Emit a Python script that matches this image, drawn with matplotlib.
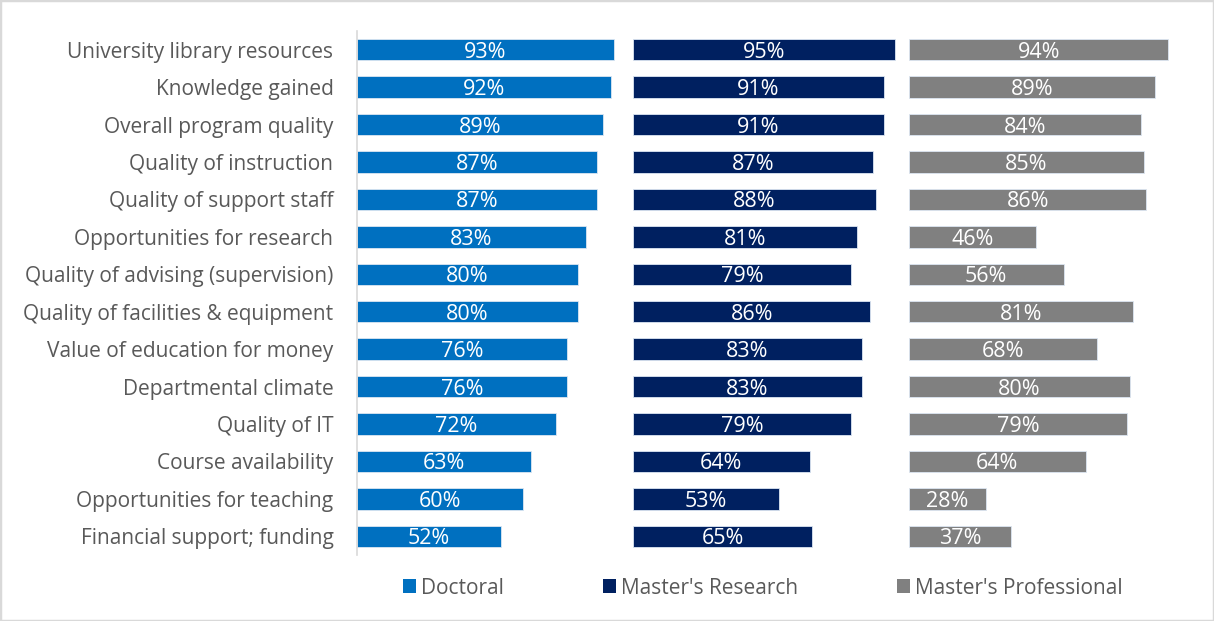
import matplotlib
matplotlib.use("Agg")
import matplotlib.pyplot as plt
from matplotlib.patches import Patch, Rectangle

categories = ["University library resources", "Knowledge gained", "Overall program quality",
              "Quality of instruction", "Quality of support staff", "Opportunities for research",
              "Quality of advising (supervision)", "Quality of facilities & equipment",
              "Value of education for money", "Departmental climate", "Quality of IT",
              "Course availability", "Opportunities for teaching", "Financial support; funding"]
doctoral = [93, 92, 89, 87, 87, 83, 80, 80, 76, 76, 72, 63, 60, 52]
masters_research = [95, 91, 91, 87, 88, 81, 79, 86, 83, 83, 79, 64, 53, 65]
masters_professional = [94, 89, 84, 85, 86, 46, 56, 81, 68, 80, 79, 64, 28, 37]
series_names = ["Doctoral", "Master's Research", "Master's Professional"]
colors = ["#0070C0", "#002060", "#808080"]

plt.rcParams['font.family'] = ['Open Sans', 'DejaVu Sans']

W, H = 1214, 621
fig = plt.figure(figsize=(W / 100, H / 100), dpi=100)
fig.patches.append(Rectangle((0, 0), 1, 1, transform=fig.transFigure, fill=False,
                             edgecolor="#D9D9D9", linewidth=2.5))

left_px, panel_px, top_px, bot_px = 357, 276, 31, 555
series = [doctoral, masters_research, masters_professional]
y = list(range(len(categories)))
for i, (vals, col) in enumerate(zip(series, colors)):
    ax = fig.add_axes([(left_px + i * panel_px) / W, 1 - bot_px / H, panel_px / W, (bot_px - top_px) / H])
    bars = ax.barh(y, [v / 100 for v in vals], height=0.57, color=col, edgecolor="#DCE6F2", linewidth=0.6)
    for b, v in zip(bars, vals):
        ax.text(b.get_width() / 2, b.get_y() + b.get_height() / 2, f"{v}%", ha="center",
                va="center_baseline", color="white", fontsize=15.5)
    ax.set_xlim(0, 1)
    ax.set_ylim(len(categories) - 0.5, -0.5)
    ax.set_xticks([])
    for s in ax.spines.values():
        s.set_visible(False)
    if i == 0:
        ax.spines['left'].set_visible(True)
        ax.spines['left'].set_color("#D9D9D9")
        ax.spines['left'].set_linewidth(1.2)
        ax.set_yticks(y)
        ax.set_yticklabels(categories, fontsize=15, color="#595959")
        ax.tick_params(axis='y', length=0, pad=17)
    else:
        ax.set_yticks([])
    ax.patch.set_alpha(0)

handles = [Patch(facecolor=c, edgecolor="none") for c in colors]
fig.legend(handles, series_names, loc="center", bbox_to_anchor=(763 / W, 1 - 588 / H), ncol=3,
           frameon=False, fontsize=15, labelcolor="#595959", handlelength=0.62, handleheight=0.62,
           handletextpad=0.25, columnspacing=4.75)

fig.savefig("out.png", dpi=100)
